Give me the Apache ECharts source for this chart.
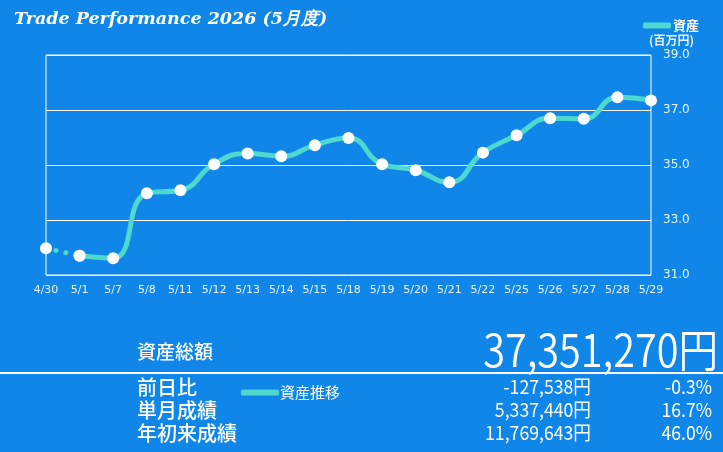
<!DOCTYPE html>
<html>
<head>
<meta charset="utf-8">
<script src="https://cdn.jsdelivr.net/npm/echarts@6/dist/echarts.min.js"></script>
<style>
  html, body { margin: 0; padding: 0; background: #0f86e8; }
  #chart { width: 723px; height: 452px; }
</style>
</head>
<body>
<div id="chart"></div>
<script>
// category labels (trading days)
const days = ['4/30', '5/1', '5/7', '5/8', '5/11', '5/12', '5/13', '5/14', '5/15', '5/18',
  '5/19', '5/20', '5/21', '5/22', '5/25', '5/26', '5/27', '5/28', '5/29'];

// assets in millions of yen (5/1 onward)
const assets = [null, 31.70, 31.61, 33.97, 34.08, 35.03, 35.42, 35.32, 35.72, 35.98,
  35.03, 34.81, 34.37, 35.45, 36.08, 36.70, 36.68, 37.46, 37.35];

// carry-over from previous month (dotted segment)
const carryOver = [31.97, 31.70];

const yTicks = [31, 33, 35, 37, 39];

// summary table
const totalLabel = '資産総額';
const totalValue = '37,351,270円';
const rowLabels = ['前日比', '単月成績', '年初来成績'];
const rowAmounts = ['-127,538円', '5,337,440円', '11,769,643円'];
const rowRates = ['-0.3%', '16.7%', '46.0%'];

const LINE = '#4dd8d0';
const BG = '#0f86e8';
const JP = '"Noto Sans CJK JP", "Noto Sans", sans-serif';

const chart = echarts.init(document.getElementById('chart'));

const rowY = [387, 410, 433];
const graphics = [
  { type: 'rect', shape: { x: 0, y: 372, width: 723, height: 2 }, style: { fill: '#ffffff' } },
  { type: 'text', x: 137, y: 352, style: { text: totalLabel, fill: '#fff', font: '500 19px ' + JP, textVerticalAlign: 'middle' } },
  { type: 'text', x: 718, y: 350, scaleX: 0.88, style: { text: totalValue, fill: '#fff', font: '350 45px ' + JP, textAlign: 'right', textVerticalAlign: 'middle' } }
];
rowLabels.forEach((t, i) => {
  graphics.push({ type: 'text', x: 137, y: rowY[i], style: { text: t, fill: '#fff', font: '500 20px ' + JP, textVerticalAlign: 'middle' } });
  graphics.push({ type: 'text', x: 591, y: rowY[i], scaleX: 0.93, style: { text: rowAmounts[i], fill: '#fff', font: '19px ' + JP, textAlign: 'right', textVerticalAlign: 'middle' } });
  graphics.push({ type: 'text', x: 712, y: rowY[i], scaleX: 0.93, style: { text: rowRates[i], fill: '#fff', font: '19px ' + JP, textAlign: 'right', textVerticalAlign: 'middle' } });
});

const option = {
  backgroundColor: BG,
  animation: false,
  title: {
    text: 'Trade Performance 2026 (5月度)',
    left: 9,
    top: 5,
    textStyle: {
      color: '#fff',
      fontFamily: '"DejaVu Serif", serif',
      fontStyle: 'italic',
      fontWeight: 'bold',
      fontSize: 17.5
    }
  },
  legend: [
    {
      data: ['資産'],
      left: 638,
      top: 14,
      icon: 'roundRect',
      itemWidth: 28,
      itemHeight: 6,
      itemGap: 2,
      itemStyle: { color: LINE, borderWidth: 0 },
      textStyle: { color: '#fff', fontSize: 13, fontWeight: 'bold', fontFamily: JP, padding: [0, 0, 0, -3] }
    },
    {
      data: ['資産推移'],
      left: 236,
      top: 380,
      icon: 'roundRect',
      itemWidth: 38,
      itemHeight: 6,
      itemStyle: { color: LINE, borderWidth: 0 },
      textStyle: { color: '#fff', fontSize: 15, fontFamily: JP, padding: [0, 0, 0, -4] }
    }
  ],
  grid: {
    left: 46,
    right: 72,
    top: 55,
    bottom: 177,
    show: true,
    borderColor: '#ffffff',
    borderWidth: 1
  },
  xAxis: {
    type: 'category',
    data: days,
    boundaryGap: false,
    axisLine: { show: false },
    axisTick: { show: false },
    axisLabel: {
      color: '#e8f3ff',
      fontSize: 11,
      fontFamily: '"DejaVu Sans", sans-serif',
      margin: 10,
      interval: 0
    }
  },
  yAxis: {
    type: 'value',
    position: 'right',
    min: yTicks[0],
    max: yTicks[yTicks.length - 1],
    interval: 2,
    name: '(百万円)',
    nameLocation: 'end',
    nameGap: 9,
    nameTextStyle: { color: '#e8f3ff', fontSize: 12, fontWeight: 'bold', fontFamily: JP, align: 'left', padding: [0, 0, 0, -2] },
    axisLine: { show: false },
    axisTick: { show: false },
    splitLine: { lineStyle: { color: '#ffffff', width: 1 } },
    axisLabel: {
      color: '#e8f3ff',
      fontSize: 12,
      fontFamily: '"DejaVu Sans", sans-serif',
      margin: 12,
      formatter: v => v.toFixed(1)
    }
  },
  series: [
    {
      name: '資産推移',
      type: 'line',
      data: carryOver,
      symbol: 'circle',
      symbolSize: 12,
      itemStyle: { color: '#ffffff' },
      lineStyle: { color: LINE, width: 5, type: [0.1, 10], cap: 'round' },
      z: 2
    },
    {
      name: '資産',
      type: 'line',
      data: assets,
      smooth: true,
      symbol: 'circle',
      symbolSize: 12,
      itemStyle: { color: '#ffffff' },
      lineStyle: { color: LINE, width: 5 },
      z: 3
    }
  ],
  graphic: graphics
};

chart.setOption(option);
</script>
</body>
</html>
